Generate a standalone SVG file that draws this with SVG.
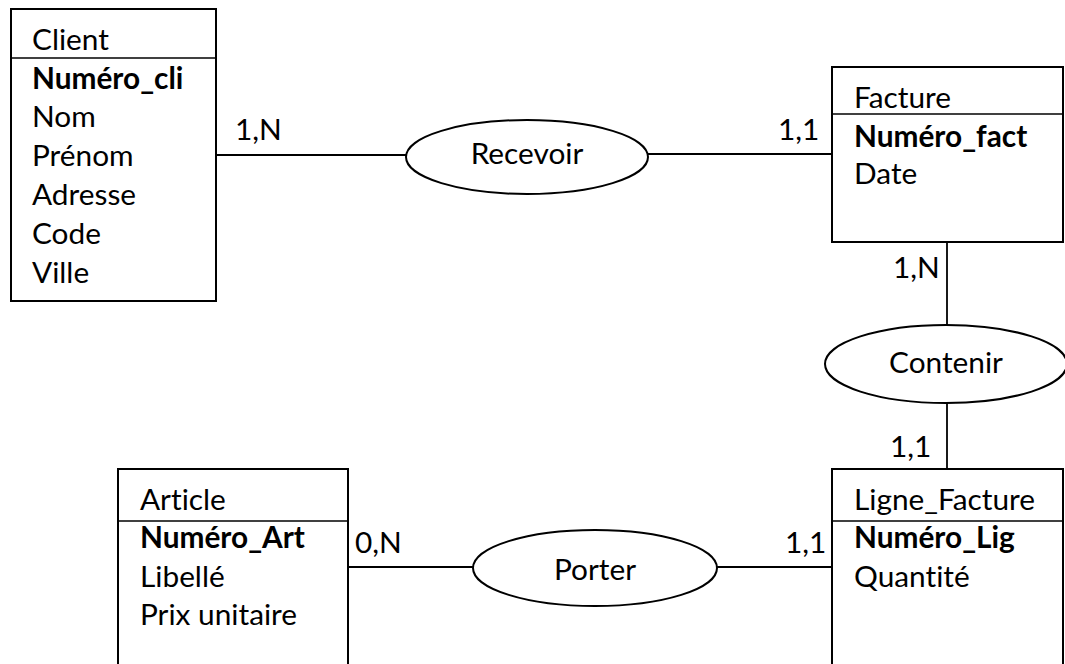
<svg xmlns="http://www.w3.org/2000/svg" width="1065" height="664" viewBox="0 0 1065 664">
<style>
  text { font-family: Lato, "Open Sans", "Liberation Sans", sans-serif; font-size: 29.8px; fill: #000; font-variant-ligatures: none; }
  .b { font-weight: bold; }
  .box { fill: #fff; stroke: #000; stroke-width: 2; }
  .div { stroke: #000; stroke-width: 1.5; }
  .ell { fill: #fff; stroke: #000; stroke-width: 2; }
  .con line { stroke: #000; stroke-width: 1.8; }
  .mid { text-anchor: middle; }
</style>
<rect width="1065" height="664" fill="#fff"/>
<g class="con" id="connectors">
  <line x1="216" y1="155" x2="406" y2="155"/>
  <line x1="648" y1="154" x2="832" y2="154"/>
  <line x1="947" y1="242" x2="947" y2="325"/>
  <line x1="947" y1="403" x2="947" y2="469"/>
  <line x1="348" y1="567" x2="473" y2="567"/>
  <line x1="717" y1="567" x2="832" y2="567"/>
  <text x="235" y="140">1,N</text>
  <text x="778" y="140">1,1</text>
  <text x="893" y="278">1,N</text>
  <text x="890" y="457">1,1</text>
  <text x="355" y="553">0,N</text>
  <text x="785" y="553">1,1</text>
</g>
<g id="client">
  <rect class="box" x="11" y="9" width="205" height="292"/>
  <line class="div" x1="11" y1="58" x2="216" y2="58"/>
  <text x="32" y="50">Client</text>
  <text class="b" x="32" y="89">Numéro_cli</text>
  <text x="32" y="127">Nom</text>
  <text x="32" y="166">Prénom</text>
  <text x="32" y="205">Adresse</text>
  <text x="32" y="244">Code</text>
  <text x="32" y="283">Ville</text>
</g>
<g id="recevoir">
  <ellipse class="ell" cx="527" cy="157" rx="121" ry="37"/>
  <text class="mid" x="527" y="164">Recevoir</text>
</g>
<g id="facture">
  <rect class="box" x="832" y="67" width="231" height="175"/>
  <line class="div" x1="832" y1="114" x2="1063" y2="114"/>
  <text x="854" y="108">Facture</text>
  <text class="b" x="854" y="147">Numéro_fact</text>
  <text x="854" y="184">Date</text>
</g>
<g id="contenir">
  <ellipse class="ell" cx="946" cy="364" rx="121" ry="39"/>
  <text class="mid" x="946" y="373">Contenir</text>
</g>
<g id="ligne_facture">
  <rect class="box" x="832" y="469" width="231" height="210"/>
  <line class="div" x1="832" y1="521" x2="1063" y2="521"/>
  <text x="854" y="510">Ligne_Facture</text>
  <text class="b" x="854" y="548">Numéro_Lig</text>
  <text x="854" y="587">Quantité</text>
</g>
<g id="article">
  <rect class="box" x="118" y="469" width="230" height="210"/>
  <line class="div" x1="118" y1="521" x2="348" y2="521"/>
  <text x="140" y="510">Article</text>
  <text class="b" x="140" y="548">Numéro_Art</text>
  <text x="140" y="587">Libellé</text>
  <text x="140" y="625">Prix unitaire</text>
</g>
<g id="porter">
  <ellipse class="ell" cx="595" cy="568" rx="122" ry="38"/>
  <text class="mid" x="595" y="580">Porter</text>
</g>
</svg>
